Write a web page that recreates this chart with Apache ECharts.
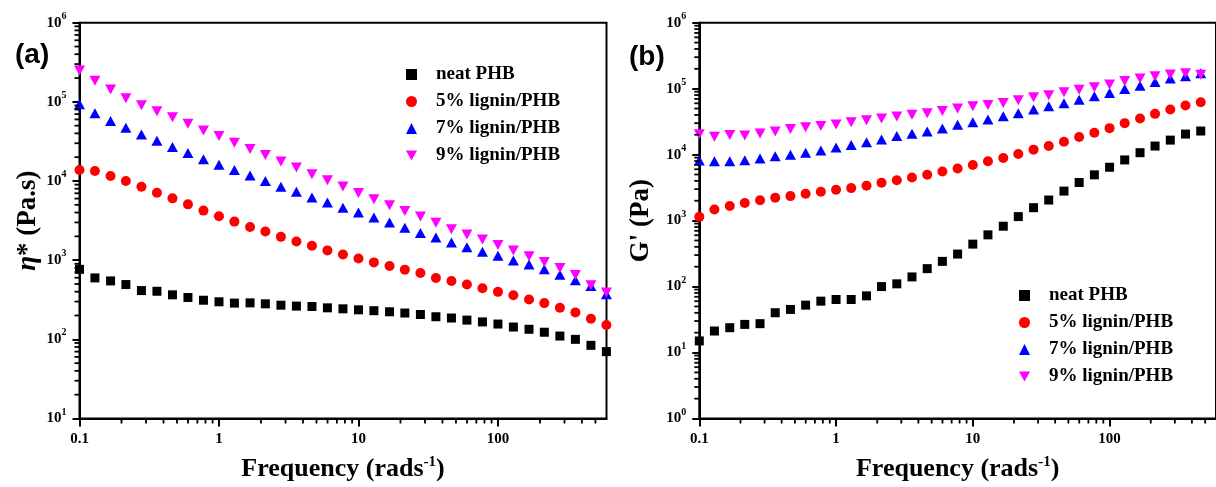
<!DOCTYPE html>
<html>
<head>
<meta charset="utf-8">
<script src="https://cdn.jsdelivr.net/npm/echarts@6/dist/echarts.min.js"></script>
<style>
html,body{margin:0;padding:0;background:#fff;}
#chart{width:1216px;height:487px;}
</style>
</head>
<body>
<div id="chart"></div>
<script>
// ---- data ----
const freq = [0.1, 0.129, 0.167, 0.215, 0.278, 0.359, 0.464, 0.599, 0.774, 1, 1.29, 1.67, 2.15, 2.78, 3.59, 4.64, 5.99, 7.74, 10, 12.9, 16.7, 21.5, 27.8, 35.9, 46.4, 59.9, 77.4, 100, 129, 167, 215, 278, 359, 464, 599];
const seriesNames = ['neat PHB', '5% lignin/PHB', '7% lignin/PHB', '9% lignin/PHB'];

// (a) complex viscosity
const etaNeat = [766,597,547,492,413,405,365,338,312,298,287,289,281,270,263,260,250,243,236,230,223,215,206,193,186,175,166,156,143,134,123,110,100,84,70];
const eta5 = [13800,13400,11600,10000,8450,7110,6040,5070,4230,3580,3070,2630,2300,1970,1720,1520,1330,1180,1050,938,844,759,689,597,547,492,443,398,361,319,287,250,219,182,152];
const eta7 = [93300,71900,57100,47100,38800,32300,26900,22600,18800,16100,13800,11700,10000,8450,7310,6210,5370,4600,3990,3450,2990,2560,2210,1930,1670,1460,1280,1140,994,885,766,656,557,473,372];
const eta9 = [249000,185000,143000,111000,90600,76200,64100,52800,43600,37000,30500,25400,21300,17600,14800,12200,10200,8540,7050,5870,4930,4180,3550,2960,2460,2110,1830,1550,1330,1120,949,797,650,482,390];

// (b) storage modulus
const gNeat = [15.0,21.2,23.8,26.7,27.4,40.1,45.0,52.3,60.1,63.7,63.7,72.3,100,110,140,187,241,311,440,608,822,1150,1570,2050,2800,3780,4940,6440,8310,10700,13500,16600,20500,22800];
const g5 = [1140,1470,1660,1850,2030,2220,2350,2550,2740,2930,3110,3370,3740,4100,4500,4940,5540,6150,6980,7930,8910,10200,11900,13500,15700,18500,21500,25200,30000,35300,41500,48200,55400,62200];
const g7 = [8130,7930,7930,8220,8710,9440,10000,10700,11600,12800,14000,15400,17000,19100,20700,22500,25000,28300,31000,34100,38300,42500,48200,54200,60100,68200,76600,86000,98900,111000,126000,142000,154000,172000];
const g9 = [20300,18700,19800,19500,21000,22500,24400,26100,27100,28600,31000,33300,35300,37800,40100,42500,46000,49900,54200,56700,60800,66700,74000,79400,88100,96600,105000,116000,131000,142000,154000,164000,172000,163000];

// ticks
const xTicks = [0.1, 1, 10, 100];
const yTicksA = [10, 100, 1000, 10000, 100000, 1000000];
const yTicksB = [1, 10, 100, 1000, 10000, 100000, 1000000];

// ---- styling ----
const SERIF = '"Liberation Serif","Times New Roman",serif';
const SANS = '"Liberation Sans",Arial,sans-serif';
const colors = ['#000000', '#ff0000', '#0000ff', '#ff00ff'];
const symbols = ['rect', 'circle', 'triangle', 'path://M0,0L10,0L5,9Z'];
const sizes = [9, 10, [11, 10], [11, 10]];

function minorTicks(lo, hi) {
  const out = [];
  for (let d = lo; d < hi; d *= 10) {
    for (let m = 2; m <= 9; m++) {
      const v = +(d * m).toPrecision(6);
      if (v < hi) out.push(v);
    }
  }
  return out;
}

const GW = 527, GH = 398;
const rectA = {left: 79.5, top: 22.7, width: GW, height: GH};
const rectB = {left: 699.3, top: 22.7, width: GW, height: GH};
const X_MIN = 0.1, X_MAX = 600;

function xAxisMain(gi, name) {
  return {
    type: 'log', gridIndex: gi, position: 'bottom', min: X_MIN, max: X_MAX, logBase: 10,
    name: name, nameLocation: 'middle', nameGap: 36,
    nameTextStyle: {
      fontFamily: SERIF, fontWeight: 'bold', fontSize: 26, color: '#000',
      rich: {
        n: {fontFamily: SERIF, fontWeight: 'bold', fontSize: 26, color: '#000'},
        s: {fontFamily: SERIF, fontWeight: 'bold', fontSize: 15, color: '#000', padding: [0, 0, 14, 0]}
      }
    },
    axisLine: {show: true, lineStyle: {color: '#000', width: 2}},
    axisTick: {show: true, inside: false, length: 8, lineStyle: {color: '#000', width: 2}, customValues: xTicks},
    axisLabel: {show: true, margin: 13, customValues: xTicks, fontFamily: SERIF, fontWeight: 'bold', fontSize: 15, color: '#000',
      formatter: function (v) { return String(+v.toPrecision(3)); }},
    splitLine: {show: false}, minorTick: {show: false}
  };
}

function yAxisMain(gi, min, ticks, name, rich, gap) {
  return {
    type: 'log', gridIndex: gi, position: 'left', min: min, max: 1000000, logBase: 10,
    name: name, nameLocation: 'middle', nameGap: gap, nameRotate: 90,
    nameTextStyle: {fontFamily: SERIF, fontWeight: 'bold', fontSize: 27, color: '#000', rich: rich},
    axisLine: {show: true, lineStyle: {color: '#000', width: 2}},
    axisTick: {show: true, inside: false, length: 7, lineStyle: {color: '#000', width: 2}, customValues: ticks},
    axisLabel: {show: true, margin: 13, customValues: ticks,
      formatter: function (v) { return '{b|10}{s|' + Math.round(Math.log10(v)) + '}'; },
      rich: {
        b: {fontFamily: SERIF, fontWeight: 'bold', fontSize: 15, color: '#000'},
        s: {fontFamily: SERIF, fontWeight: 'bold', fontSize: 10, color: '#000', padding: [0, 0, 13, 0]}
      }},
    splitLine: {show: false}, minorTick: {show: false}
  };
}

// minor ticks placed through the axes' own scales (custom series, small filled bars)
function minorTickSeries(p, yMin) {
  const data = [];
  minorTicks(X_MIN, X_MAX).forEach(function (v) { data.push([v, yMin, 0]); });
  minorTicks(yMin, 1000000).forEach(function (v) { data.push([X_MIN, v, 1]); });
  return {
    type: 'custom', xAxisIndex: p, yAxisIndex: p, silent: true, clip: false, z: 5,
    encode: {x: 0, y: 1},
    data: data,
    renderItem: function (params, api) {
      const pt = api.coord([api.value(0), api.value(1)]);
      const isY = api.value(2) === 1;
      return {
        type: 'rect',
        shape: isY ? {x: pt[0] - 5, y: pt[1] - 0.9, width: 5, height: 1.8}
                   : {x: pt[0] - 0.9, y: pt[1], width: 1.8, height: 5},
        style: {fill: '#000'}
      };
    }
  };
}

const xName = '{n|Frequency (rads}{s|-1}{n|)}';
const richN = {fontFamily: SERIF, fontWeight: 'bold', fontSize: 27, color: '#000'};

const series = [];
const setsA = [etaNeat, eta5, eta7, eta9];
const setsB = [gNeat, g5, g7, g9];
[setsA, setsB].forEach(function (sets, p) {
  sets.forEach(function (vals, i) {
    series.push({
      name: seriesNames[i], type: 'scatter', xAxisIndex: p, yAxisIndex: p,
      symbol: symbols[i], symbolSize: sizes[i], clip: false,
      itemStyle: {color: colors[i], opacity: 1},
      emphasis: {disabled: true},
      data: vals.map(function (v, k) { return [freq[k], v]; })
    });
  });
});
series.push(minorTickSeries(0, 10));
series.push(minorTickSeries(1, 1));

function legend(left, top) {
  return {
    data: seriesNames, orient: 'vertical', left: left, top: top,
    itemWidth: 11, itemHeight: 11, itemGap: 8, selectedMode: false,
    formatter: function (n) { return '{g| }{t|' + n + '}'; },
    textStyle: {
      rich: {
        g: {width: 14},
        t: {fontFamily: SERIF, fontWeight: 'bold', fontSize: 19, color: '#000', lineHeight: 21}
      }
    }
  };
}

const border = {show: true, borderColor: '#000', borderWidth: 2, backgroundColor: 'transparent'};
const option = {
  animation: false,
  backgroundColor: '#fff',
  title: [
    {text: '(a)', left: 10, top: 36, textStyle: {fontFamily: SANS, fontWeight: 'bold', fontSize: 28, color: '#000'}},
    {text: '(b)', left: 624, top: 38, textStyle: {fontFamily: SANS, fontWeight: 'bold', fontSize: 28, color: '#000'}}
  ],
  legend: [legend(401, 60), legend(1014, 281)],
  grid: [
    Object.assign({}, border, rectA),
    Object.assign({}, border, rectB)
  ],
  xAxis: [xAxisMain(0, xName), xAxisMain(1, xName)],
  yAxis: [
    yAxisMain(0, 10, yTicksA, '{i|η}{n|* (Pa.s)}', {i: Object.assign({}, richN, {fontStyle: 'italic'}), n: richN}, 38),
    yAxisMain(1, 1, yTicksB, '{n|G\' (Pa)}', {n: richN}, 45)
  ],
  series: series
};

const chart = echarts.init(document.getElementById('chart'), null, {renderer: 'canvas'});
chart.setOption(option);
</script>
</body>
</html>
